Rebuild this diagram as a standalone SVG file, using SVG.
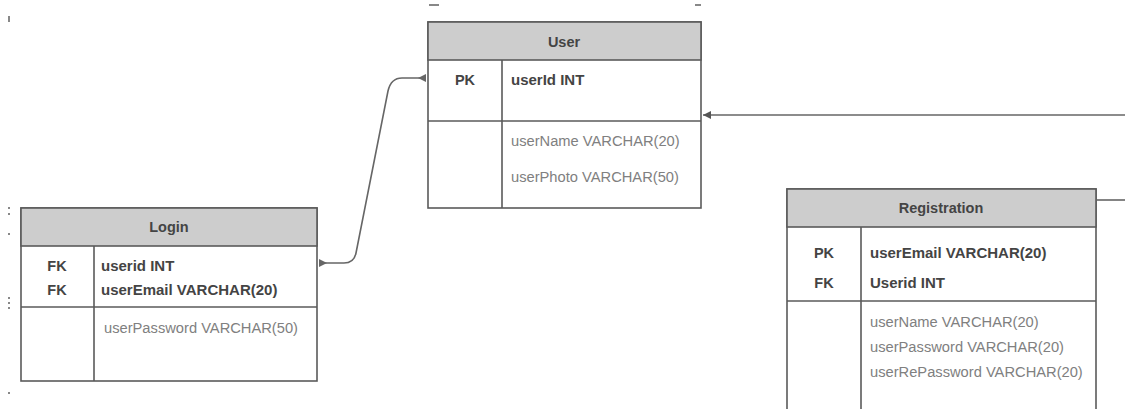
<svg xmlns="http://www.w3.org/2000/svg" width="1125" height="409" viewBox="0 0 1125 409">
<style>
.box{fill:#fff;stroke:#5a5a5a;stroke-width:1.6}
.hdr{fill:#cdcdcd;stroke:#5a5a5a;stroke-width:1.6}
.ln{stroke:#5a5a5a;stroke-width:1.6;fill:none}
.t{font-family:"Liberation Sans",Arial,sans-serif;font-size:14.5px}
.title{font-weight:bold;fill:#444;text-anchor:middle}
.key{font-weight:bold;fill:#444;font-size:15px}
.keyc{font-weight:bold;fill:#444;text-anchor:middle}
.attr{fill:#808080;font-size:14.7px}
.conn{stroke:#666;stroke-width:1.6;fill:none}
.dot{fill:#888}
</style>
<rect width="1125" height="409" fill="#fff"/>
<g id="artifacts">
<rect class="dot" x="8" y="16" width="2" height="6"/>
<rect class="dot" x="429" y="4" width="10" height="2"/>
<rect class="dot" x="695" y="4" width="6" height="2"/>
<rect class="dot" x="8" y="207" width="2" height="2"/>
<rect class="dot" x="8" y="213" width="2" height="2"/>
<rect class="dot" x="8" y="233" width="2" height="2"/>
<rect class="dot" x="8" y="297" width="2" height="2"/>
<rect class="dot" x="8" y="302" width="2" height="2"/>
<rect class="dot" x="8" y="307" width="2" height="2"/>
<rect class="dot" x="8" y="392" width="2" height="2"/>
</g>
<g id="connectors">
<path class="conn" d="M320,263 L344,263 Q354,263 356,253 L388,91 Q391,78 402,78 L426,78"/>
<path d="M327,263 L319,259 L319,267 Z" fill="#666"/>
<path d="M418,78 L426,74 L426,82 Z" fill="#666"/>
<path class="conn" d="M703,115 L1125,115"/>
<path d="M703,115 L711,111 L711,119 Z" fill="#555"/>
<path class="conn" d="M1097,200 L1125,200"/>
</g>
<g id="user">
<rect class="box" x="428" y="22" width="273" height="186"/>
<rect class="hdr" x="428" y="22" width="273" height="38"/>
<line class="ln" x1="428" y1="121" x2="701" y2="121"/>
<line class="ln" x1="502" y1="60" x2="502" y2="208"/>
<text class="t title" x="564" y="47">User</text>
<text class="t keyc" x="465" y="85">PK</text>
<text class="t key" x="511" y="85">userId INT</text>
<text class="t attr" x="511" y="146">userName VARCHAR(20)</text>
<text class="t attr" x="511" y="182">userPhoto VARCHAR(50)</text>
</g>
<g id="login">
<rect class="box" x="21" y="208" width="296" height="173"/>
<rect class="hdr" x="21" y="208" width="296" height="38"/>
<line class="ln" x1="21" y1="307" x2="317" y2="307"/>
<line class="ln" x1="94" y1="246" x2="94" y2="381"/>
<text class="t title" x="169" y="232">Login</text>
<text class="t keyc" x="57" y="271">FK</text>
<text class="t keyc" x="57" y="295">FK</text>
<text class="t key" x="101" y="271">userid INT</text>
<text class="t key" x="101" y="295">userEmail VARCHAR(20)</text>
<text class="t attr" x="104" y="333">userPassword VARCHAR(50)</text>
</g>
<g id="registration">
<rect class="box" x="787" y="189" width="309" height="240"/>
<rect class="hdr" x="787" y="189" width="309" height="38"/>
<line class="ln" x1="787" y1="301" x2="1096" y2="301"/>
<line class="ln" x1="861" y1="227" x2="861" y2="429"/>
<text class="t title" x="941" y="213">Registration</text>
<text class="t keyc" x="824" y="258">PK</text>
<text class="t keyc" x="824" y="288">FK</text>
<text class="t key" x="870" y="258">userEmail VARCHAR(20)</text>
<text class="t key" x="870" y="288">Userid INT</text>
<text class="t attr" x="870" y="327">userName VARCHAR(20)</text>
<text class="t attr" x="870" y="352">userPassword VARCHAR(20)</text>
<text class="t attr" x="870" y="377">userRePassword VARCHAR(20)</text>
</g>
</svg>
